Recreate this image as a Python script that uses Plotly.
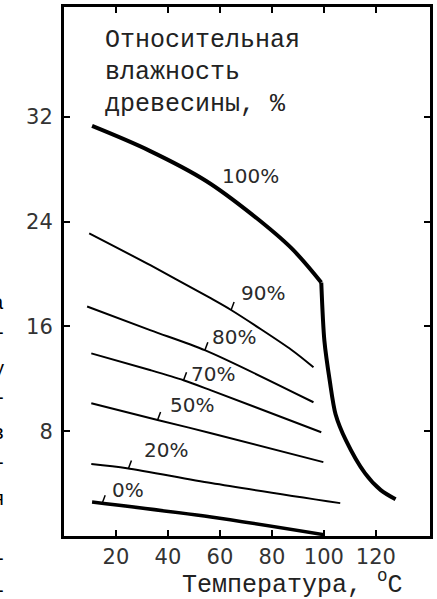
import numpy as np
import plotly.graph_objects as go

# Equilibrium moisture content of wood vs. temperature, by relative air humidity
# 100 % curve: smooth upper branch, then a steep drop after the break at ~99 °C
x_100_top = [10.8, 33.0, 54.7, 72.3, 87.6, 99.0]
y_100_top = [31.3, 29.4, 27.1, 24.55, 21.95, 19.35]
x_100_drop = [99.0, 100.2, 102.3, 104.5, 108.5, 115.8, 121.9, 127.6]
y_100_drop = [19.35, 14.9, 11.8, 9.3, 7.3, 4.8, 3.5, 2.8]

x_90 = [9.7, 33.4, 56.6, 64.3, 87.6, 96.0]
y_90 = [23.1, 20.65, 18.13, 17.25, 14.2, 12.88]

x_80 = [8.9, 33.4, 54.4, 96.0]
y_80 = [17.52, 15.7, 14.17, 10.21]

x_70 = [10.5, 33.4, 46.0, 56.6, 99.0]
y_70 = [13.94, 12.65, 11.89, 11.12, 7.92]

x_50 = [10.5, 36.4, 56.6, 99.8]
y_50 = [10.13, 8.84, 7.85, 5.64]

x_20 = [10.5, 24.2, 56.6, 106.3]
y_20 = [5.49, 5.18, 4.04, 2.51]

x_0 = [10.8, 56.6, 100.0]
y_0 = [2.59, 1.45, 0.1]

curve_names = ["100%", "90%", "80%", "70%", "50%", "20%", "0%"]
curves_x = [x_100_top, x_90, x_80, x_70, x_50, x_20, x_0]
curves_y = [y_100_top, y_90, y_80, y_70, y_50, y_20, y_0]

# label placement (data coords) and leader-tick x positions
label_pos = [(71.7, 27.5), (76.5, 18.55), (65.4, 15.2), (57.4, 12.4),
             (49.2, 10.0), (39.3, 6.55), (24.8, 3.54)]
leader_x = [None, 64.3, 54.2, 46.0, 36.0, 24.8, 14.7]
line_widths = [4, 2, 2, 2, 2, 2, 3.5]
smoothing = [1.0, 0.8, 0.8, 0.8, 0.8, 0.8, 0.8]

x_ticks = [20, 40, 60, 80, 100, 120]
y_ticks = [8, 16, 24, 32]

title_lines = ["Относительная", "влажность", "древесины, %"]
x_title = "Температура, <sup>o</sup>C"
edge_fragments = ["а", "-", "у", "-", "в", "-", "я", "-", "-"]

W, H = 437, 599
L, R, T, B = 64, 4, 6, 63
pw, ph = W - L - R, H - T - B


def px_to_paper_x(px):
    return (px - L) / pw


def py_to_paper_y(py):
    return (H - B - py) / ph


fig = go.Figure()
for cx, cy, lw, sm in zip(curves_x, curves_y, line_widths, smoothing):
    fig.add_trace(go.Scatter(x=cx, y=cy, mode="lines",
                             line=dict(color="black", width=lw,
                                       shape="spline", smoothing=sm),
                             hoverinfo="skip", showlegend=False))
fig.add_trace(go.Scatter(x=x_100_drop, y=y_100_drop, mode="lines",
                         line=dict(color="black", width=4,
                                   shape="spline", smoothing=0.8),
                         hoverinfo="skip", showlegend=False))

label_font = dict(family="DejaVu Sans", size=20, color="#2a2a2a")
for name, (lx, ly) in zip(curve_names, label_pos):
    fig.add_annotation(x=lx, y=ly, xref="x", yref="y", text=name,
                       showarrow=False, font=label_font)

# short leader ticks on the curves next to their labels
for lx, cx, cy in zip(leader_x, curves_x, curves_y):
    if lx is None:
        continue
    yv = float(np.interp(lx, cx, cy))
    fig.add_shape(type="line", xref="x", yref="y",
                  xsizemode="pixel", ysizemode="pixel",
                  xanchor=lx, yanchor=yv, x0=0, y0=0, x1=3, y1=8,
                  line=dict(color="black", width=1.5))

mono = dict(family="Liberation Mono", size=25, color="#222")
for text, py in zip(title_lines, [40, 72, 104]):
    fig.add_annotation(x=px_to_paper_x(103), y=py_to_paper_y(py),
                       xref="paper", yref="paper", text=text,
                       xanchor="left", yanchor="middle", showarrow=False,
                       font=mono)

fig.add_annotation(x=px_to_paper_x(408), y=py_to_paper_y(599), yshift=-3,
                   xref="paper", yref="paper", text=x_title,
                   xanchor="right", yanchor="bottom", showarrow=False,
                   font=mono)

# text cut off at the left edge
for text, py in zip(edge_fragments, [302, 332, 368, 397, 432, 462, 498, 558, 590]):
    fig.add_annotation(x=px_to_paper_x(6), y=py_to_paper_y(py),
                       xref="paper", yref="paper", text=text,
                       xanchor="right", yanchor="middle", showarrow=False,
                       font=dict(family="Liberation Sans", size=20, color="black"))

axis_common = dict(showline=True, linewidth=3, linecolor="black",
                   mirror="ticks", ticks="inside", ticklen=6, tickwidth=2,
                   tickcolor="black", showgrid=False, zeroline=False,
                   tickfont=dict(family="DejaVu Sans", size=21, color="#333"))

fig.update_xaxes(range=[0, pw / 2.62], tickvals=x_ticks, **axis_common)
fig.update_yaxes(range=[0, ph / 13.125], tickvals=y_ticks,
                 ticklabelstandoff=4, **axis_common)

fig.update_layout(width=W, height=H, autosize=False,
                  margin=dict(l=L, r=R, t=T, b=B),
                  paper_bgcolor="white", plot_bgcolor="white")

fig.write_html("out.html")
